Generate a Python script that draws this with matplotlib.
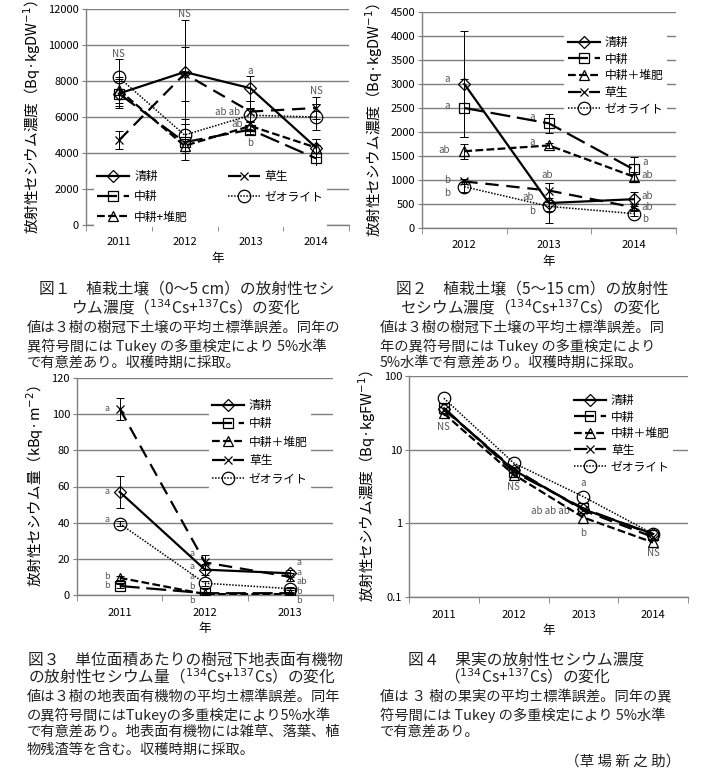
import matplotlib
matplotlib.use('Agg')
import matplotlib.pyplot as plt
import numpy as np

plt.rcParams['font.family'] = ['Noto Sans CJK JP', 'DejaVu Sans']
plt.rcParams['mathtext.fontset'] = 'dejavusans'
plt.rcParams['axes.unicode_minus'] = True

# ---------------- data ----------------
labels_f1 = ['清耕', '中耕', '中耕+堆肥', '草生', 'ゼオライト']
labels_fx = ['清耕', '中耕', '中耕＋堆肥', '草生', 'ゼオライト']

# Fig.1 soil 0-5 cm (Bq/kgDW)
years1 = ['2011', '2012', '2013', '2014']
f1_seiko = [7300, 8500, 7600, 4300]
f1_seiko_err = [800, 2900, 700, 500]
f1_chuko = [7300, 4600, 5300, 3700]
f1_chuko_err = [700, 1000, 250, 750]
f1_taihi = [7500, 4400, 5500, 4300]
f1_taihi_err = [700, 400, 300, 500]
f1_sosei = [4700, 8400, 6300, 6500]
f1_sosei_err = [500, 1500, 600, 600]
f1_zeo = [8200, 5000, 6100, 6000]
f1_zeo_err = [1000, 900, 400, 700]
f1_notes = ['NS', 'NS', 'a', 'ab ab', 'ab', 'b', 'NS']
f1_note_x = [0, 1, 2, 1.65, 1.8, 2, 3]
f1_note_y = [9500, 11700, 8550, 6280, 5610, 4560, 7450]

# Fig.2 soil 5-15 cm (Bq/kgDW)
years2 = ['2012', '2013', '2014']
f2_seiko = [3000, 520, 600]
f2_seiko_err = [1100, 420, 150]
f2_chuko = [2500, 2180, 1220]
f2_chuko_err = [600, 200, 250]
f2_taihi = [1600, 1720, 1070]
f2_taihi_err = [160, 50, 100]
f2_sosei = [970, 780, 430]
f2_sosei_err = [50, 150, 60]
f2_zeo = [860, 450, 300]
f2_zeo_err = [100, 100, 50]
f2_notes = ['a', 'a', 'ab', 'b', 'b', 'a', 'a', 'ab', 'ab', 'b', 'a', 'ab', 'ab', 'ab', 'b']
f2_note_x = [-0.2, -0.2, -0.24, -0.2, -0.2, 0.8, 0.8, 0.98, 0.75, 0.8, 2.13, 2.16, 2.16, 2.16, 2.13]
f2_note_y = [3100, 2550, 1630, 1000, 720, 2310, 1800, 1100, 640, 350, 1370, 1100, 660, 430, 190]

# Fig.3 organic matter (kBq/m2)
years3 = ['2011', '2012', '2013']
f3_seiko = [57, 14, 12]
f3_seiko_err = [9, 3, 2]
f3_chuko = [5, 1, 1]
f3_chuko_err = [1, 0.5, 0.5]
f3_taihi = [9.5, 0.5, 0.5]
f3_taihi_err = [1, 0.5, 0.5]
f3_sosei = [103, 18, 10]
f3_sosei_err = [6, 4, 2]
f3_zeo = [39.5, 6.5, 3.5]
f3_zeo_err = [1.5, 1.5, 1]
f3_notes = ['a', 'a', 'a', 'b', 'b', 'a', 'a', 'a', 'b', 'b', 'a', 'a', 'ab', 'b', 'b']
f3_note_x = [-0.15, -0.15, -0.15, -0.15, -0.15, 0.85, 0.85, 0.85, 0.85, 0.85, 2.1, 2.1, 2.13, 2.1, 2.1]
f3_note_y = [103, 57, 42, 10.5, 5, 23, 15.5, 10, 4.6, -3, 18, 12.7, 7.4, 2.1, -3.2]

# Fig.4 fruit (Bq/kgFW)
years4 = ['2011', '2012', '2013', '2014']
f4_seiko = [36, 5.3, 1.55, 0.72]
f4_chuko = [37, 5.0, 1.6, 0.70]
f4_taihi = [31, 4.6, 1.2, 0.55]
f4_sosei = [35, 5.5, 1.5, 0.65]
f4_zeo = [50, 6.6, 2.3, 0.72]
f4_notes = ['NS', 'NS', 'a', 'ab ab ab', 'b', 'NS']
f4_note_x = [0, 1, 2, 1.52, 2, 3]
f4_note_y = [20, 3.1, 3.5, 1.45, 0.75, 0.4]

# ---------------- styles ----------------
styles = [
    dict(ls='-', marker='D', ms=6, lw=1.6),
    dict(ls=(0, (9, 3)), marker='s', ms=7, lw=1.6),
    dict(ls=(0, (3.5, 1.5)), marker='^', ms=7, lw=1.6),
    dict(ls=(0, (6, 3.5)), marker='x', ms=6, lw=1.6),
    dict(ls=(0, (1, 1)), marker='o', ms=9, lw=1.1),
]
GRID = '#7f7f7f'
NOTE = '#555555'

W, H = 705, 772
fig = plt.figure(figsize=(W / 100, H / 100), dpi=100)


def ax_px(l, t, r, b):
    return fig.add_axes([l / W, 1 - b / H, (r - l) / W, (b - t) / H])


def setup(ax, years, ylim, yticks, ylabel, log=False):
    n = len(years)
    ax.set_xlim(-0.5, n - 0.5)
    if log:
        ax.set_yscale('log')
        ax.yaxis.set_minor_locator(matplotlib.ticker.NullLocator())
    ax.set_ylim(*ylim)
    ax.set_yticks(yticks)
    ax.set_yticklabels([('%g' % v) for v in yticks], fontsize=8)
    ax.set_xticks(np.arange(n))
    ax.set_xticklabels(years, fontsize=8)
    ax.set_xticks(np.arange(n + 1) - 0.5, minor=True)
    ax.tick_params(axis='x', which='major', length=0, pad=9)
    ax.tick_params(axis='x', which='minor', length=4, color=GRID, direction='out')
    ax.tick_params(axis='y', which='major', length=3, color=GRID, direction='out', pad=2)
    for s in ['top', 'right']:
        ax.spines[s].set_visible(False)
    for s in ['left', 'bottom']:
        ax.spines[s].set_color(GRID)
        ax.spines[s].set_linewidth(1.0)
    ax.grid(axis='y', color=GRID, lw=1.0)
    ax.set_axisbelow(True)
    ax.set_ylabel(ylabel, fontsize=10.5, labelpad=4)
    ax.set_xlabel('年', fontsize=9, labelpad=3)


def plot_series(ax, series, errs, labels):
    for i, (vals, lab) in enumerate(zip(series, labels)):
        st = styles[i]
        x = np.arange(len(vals))
        if errs is not None:
            ax.errorbar(x, vals, yerr=errs[i], fmt='none', ecolor='black',
                        elinewidth=0.7, capsize=2.8, capthick=0.7, zorder=3)
        ax.plot(x, vals, color='black', ls=st['ls'], lw=st['lw'], marker=st['marker'],
                ms=st['ms'], mfc='none', mec='black', mew=0.9, label=lab, zorder=4)


def notes(ax, texts, xs, ys, size=7):
    for t, x, y in zip(texts, xs, ys):
        ax.text(x, y, t, fontsize=size, color=NOTE, ha='center', va='center', clip_on=False)


def legend(ax, **kw):
    lg = ax.legend(frameon=True, fancybox=False, framealpha=1, facecolor='white',
                   edgecolor='white', handlelength=2.7, handletextpad=0.4,
                   borderaxespad=0, prop={'size': 8.5}, **kw)
    lg.get_frame().set_linewidth(0)
    lg.set_zorder(10)
    return lg


ylab_dw = '放射性セシウム濃度（Bq·kgDW$^{\\mathrm{-1}}$）'

# ---- Fig 1 ----
ax1 = ax_px(86, 9, 349, 225)
setup(ax1, years1, (0, 12000), np.arange(0, 12001, 2000), ylab_dw)
plot_series(ax1, [f1_seiko, f1_chuko, f1_taihi, f1_sosei, f1_zeo],
            [f1_seiko_err, f1_chuko_err, f1_taihi_err, f1_sosei_err, f1_zeo_err], labels_f1)
notes(ax1, f1_notes, f1_note_x, f1_note_y)
legend(ax1, loc='lower left', bbox_to_anchor=(0.03, -0.01), ncol=2, columnspacing=3.4,
       labelspacing=0.62, borderpad=0.3)

# ---- Fig 2 ----
ax2 = ax_px(422, 12, 676, 228)
setup(ax2, years2, (0, 4500), np.arange(0, 4501, 500), ylab_dw)
plot_series(ax2, [f2_seiko, f2_chuko, f2_taihi, f2_sosei, f2_zeo],
            [f2_seiko_err, f2_chuko_err, f2_taihi_err, f2_sosei_err, f2_zeo_err], labels_fx)
notes(ax2, f2_notes, f2_note_x, f2_note_y)
legend(ax2, loc='upper left', bbox_to_anchor=(0.56, 0.905), labelspacing=0.3, borderpad=0.3)

# ---- Fig 3 ----
ax3 = ax_px(77, 378, 333, 595)
setup(ax3, years3, (0, 120), np.arange(0, 121, 20),
      '放射性セシウム量（kBq·m$^{\\mathrm{-2}}$）')
plot_series(ax3, [f3_seiko, f3_chuko, f3_taihi, f3_sosei, f3_zeo],
            [f3_seiko_err, f3_chuko_err, f3_taihi_err, f3_sosei_err, f3_zeo_err], labels_fx)
notes(ax3, f3_notes, f3_note_x, f3_note_y, size=6.5)
legend(ax3, loc='upper left', bbox_to_anchor=(0.515, 0.92), labelspacing=0.45, borderpad=0.3)

# ---- Fig 4 ----
ax4 = ax_px(409, 376, 688, 597)
setup(ax4, years4, (0.1, 100), [0.1, 1, 10, 100],
      '放射性セシウム濃度（Bq·kgFW$^{\\mathrm{-1}}$）', log=True)
plot_series(ax4, [f4_seiko, f4_chuko, f4_taihi, f4_sosei, f4_zeo], None, labels_fx)
notes(ax4, f4_notes, f4_note_x, f4_note_y)
legend(ax4, loc='upper left', bbox_to_anchor=(0.58, 0.935), labelspacing=0.3, borderpad=0.3)

# ---------------- captions ----------------
TS, BS = 11.3, 10.3
cs = '（$^{\\mathrm{134}}$Cs+$^{\\mathrm{137}}$Cs）'


def ftxt(x, y, s, size, ha='left'):
    fig.text(x / W, 1 - y / H, s, fontsize=size, ha=ha, va='center', color='#222222')


ftxt(187, 290, '図１　植栽土壌（0～5 cm）の放射性セシ', TS, 'center')
ftxt(186, 308, 'ウム濃度' + cs + 'の変化', TS, 'center')
ftxt(27, 328, '値は３樹の樹冠下土壌の平均±標準誤差。同年の', BS)
ftxt(27, 346, '異符号間には Tukey の多重検定により 5%水準', BS)
ftxt(27, 363, 'で有意差あり。収穫時期に採取。', BS)

ftxt(532, 290, '図２　植栽土壌（5～15 cm）の放射性', TS, 'center')
ftxt(530, 308, 'セシウム濃度' + cs + 'の変化', TS, 'center')
ftxt(380, 328, '値は３樹の樹冠下土壌の平均±標準誤差。同', BS)
ftxt(380, 346, '年の異符号間には Tukey の多重検定により', BS)
ftxt(380, 363, '5%水準で有意差あり。収穫時期に採取。', BS)

ftxt(28, 660, '図３　単位面積あたりの樹冠下地表面有機物', TS)
ftxt(28, 677, 'の放射性セシウム量' + cs + 'の変化', TS)
ftxt(27, 697, '値は３樹の地表面有機物の平均±標準誤差。同年', BS)
ftxt(27, 715, 'の異符号間にはTukeyの多重検定により5%水準', BS)
ftxt(27, 732, 'で有意差あり。地表面有機物には雑草、落葉、植', BS)
ftxt(27, 750, '物残渣等を含む。収穫時期に採取。', BS)

ftxt(526, 660, '図４　果実の放射性セシウム濃度', TS, 'center')
ftxt(527, 677, cs + 'の変化', TS, 'center')
ftxt(380, 697, '値は ３ 樹の果実の平均±標準誤差。同年の異', BS)
ftxt(380, 715, '符号間には Tukey の多重検定により 5%水準', BS)
ftxt(380, 732, 'で有意差あり。', BS)
ftxt(680, 762, '（草 場 新 之 助）', 10.5, 'right')

fig.savefig('out.png', dpi=100)
